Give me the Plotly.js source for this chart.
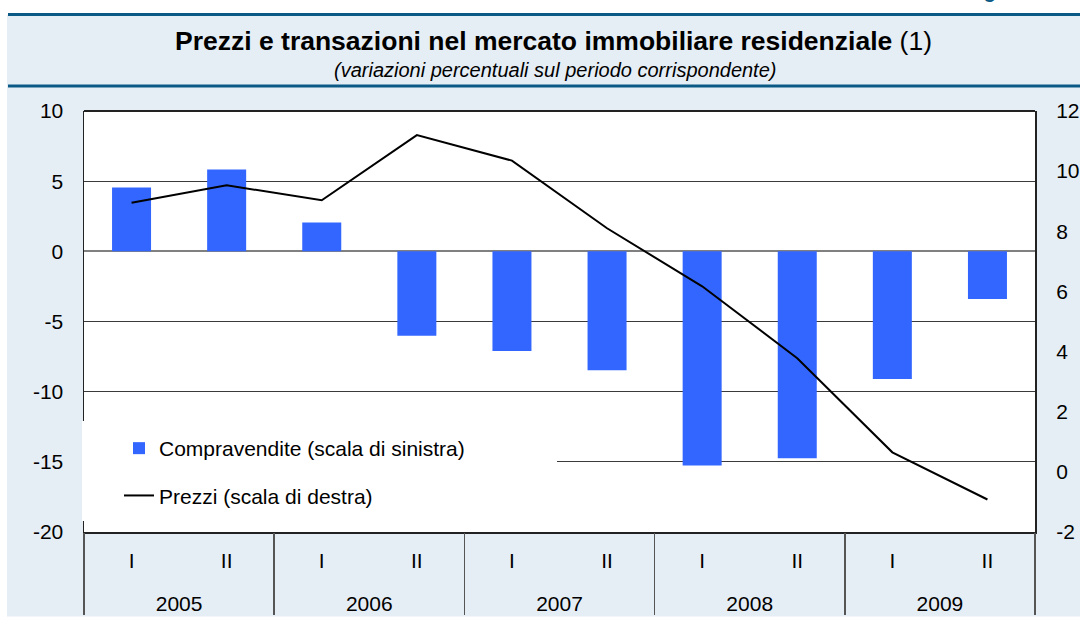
<!DOCTYPE html>
<html><head><meta charset="utf-8">
<script src="https://cdn.plot.ly/plotly-3.0.1.min.js"></script>
<style>html,body{margin:0;padding:0;background:#fff;}#chart{width:1080px;height:619px;}</style>
</head><body><div id="chart"></div>
<script>
const years = ['2005', '2006', '2007', '2008', '2009'];
const halves = ['I', 'II'];
const periods = ['2005 I','2005 II','2006 I','2006 II','2007 I','2007 II','2008 I','2008 II','2009 I','2009 II'];
const periodLabels = ['I','II','I','II','I','II','I','II','I','II'];
const compravendite = [4.55, 5.84, 2.06, -6.02, -7.1, -8.47, -15.26, -14.74, -9.1, -3.4];
const prezzi = [8.95, 9.53, 9.03, 11.2, 10.35, 8.1, 6.17, 3.78, 0.65, -0.92];
const leftTicks = [-20, -15, -10, -5, 0, 5, 10];
const rightTicks = [-2, 0, 2, 4, 6, 8, 10, 12];

const W = 1080, H = 619, L = 84, R = 1035, T = 111, B = 532;
const px = x => (x - L) / (R - L);
const py = y => (B - y) / (B - T);
const FONT = 'Liberation Sans, Arial, sans-serif';
const BLUE_LINE = '#0B5A85';
const TICKSIZE = 21;

// positions of the periods on a linear axis (one unit per period)
const pos = periods.map((p, i) => i);
const xRange = [-0.5, periods.length - 0.5];
const perYear = halves.length;
const yearPos = years.map((y, i) => i * perYear + (perYear - 1) / 2);

const traces = [
  {type: 'bar', x: pos, y: compravendite, name: 'Compravendite (scala di sinistra)',
   marker: {color: '#3366FF'}, legendgroup: 'a', xaxis: 'x', yaxis: 'y'},
  {type: 'scatter', mode: 'lines', x: pos, y: prezzi, name: 'Prezzi (scala di destra)',
   line: {color: '#000000', width: 2}, legendgroup: 'b', xaxis: 'x2', yaxis: 'y2'}
];

const layout = {
  width: W, height: H,
  margin: {l: L, r: W - R, t: T, b: H - B, pad: 0},
  paper_bgcolor: '#ffffff',
  plot_bgcolor: 'rgba(0,0,0,0)',
  font: {family: FONT, size: TICKSIZE, color: '#000'},
  bargap: 0.59,
  showlegend: true,
  title: {
    text: '<b>Prezzi e transazioni nel mercato immobiliare residenziale</b> (1)',
    font: {family: FONT, size: 26.5, color: '#000'},
    x: 553.5 / W, xanchor: 'center', xref: 'container',
    y: 1 - 41 / H, yanchor: 'middle', yref: 'container'
  },
  xaxis: {
    type: 'linear', range: xRange,
    tickvals: pos, ticktext: periodLabels,
    showline: true, linecolor: '#222', linewidth: 2,
    showgrid: false, zeroline: false,
    ticks: '', ticklabelstandoff: 9,
    tickfont: {family: FONT, size: TICKSIZE, color: '#000'},
    fixedrange: true
  },
  xaxis2: {
    type: 'linear', range: xRange, overlaying: 'x', side: 'bottom', anchor: 'y',
    tickvals: yearPos, ticktext: years,
    showline: false, showgrid: false, zeroline: false,
    ticks: '', ticklabelstandoff: 57,
    tickfont: {family: FONT, size: TICKSIZE, color: '#000'},
    minor: {tick0: -0.5, dtick: perYear, ticks: 'outside', ticklen: 82, tickcolor: '#555', tickwidth: 1.5, showgrid: false},
    fixedrange: true
  },
  yaxis: {
    range: [-20, 10], tickvals: leftTicks, ticktext: leftTicks.map(String),
    showline: true, linecolor: '#222', linewidth: 1.5,
    showgrid: true, gridcolor: '#3a3a3a', gridwidth: 1,
    zeroline: true, zerolinecolor: '#808080', zerolinewidth: 2,
    ticks: '', ticklabelstandoff: 15,
    tickfont: {family: FONT, size: TICKSIZE, color: '#000'}
  },
  yaxis2: {
    overlaying: 'y', side: 'right', anchor: 'x', range: [-2, 12], tickvals: rightTicks, ticktext: rightTicks.map(String),
    showline: true, linecolor: '#222', linewidth: 2,
    showgrid: false, zeroline: false,
    ticks: '', ticklabelstandoff: 15,
    tickfont: {family: FONT, size: TICKSIZE, color: '#000'}
  },
  legend: {
    x: px(119), y: py(428), xanchor: 'left', yanchor: 'top',
    bgcolor: 'rgba(0,0,0,0)', borderwidth: 0,
    font: {family: FONT, size: 21, color: '#000'},
    tracegroupgap: 17, traceorder: 'grouped', itemwidth: 30
  },
  shapes: [
    {type: 'rect', xref: 'paper', yref: 'paper', x0: px(7), x1: px(1080), y0: py(616.5), y1: py(15),
     fillcolor: '#E6EEF5', line: {width: 0}, layer: 'below'},
    {type: 'rect', xref: 'paper', yref: 'paper', x0: 0, x1: 1, y0: 0, y1: 1,
     fillcolor: '#ffffff', line: {width: 0}, layer: 'below'},
    {type: 'line', xref: 'paper', yref: 'paper', x0: px(8), x1: px(1080), y0: py(14.5), y1: py(14.5),
     line: {color: BLUE_LINE, width: 3}},
    {type: 'line', xref: 'paper', yref: 'paper', x0: px(8), x1: px(1080), y0: py(86), y1: py(86),
     line: {color: BLUE_LINE, width: 3}},
    {type: 'line', xref: 'paper', yref: 'paper', x0: 0, x1: 1, y0: 1, y1: 1,
     line: {color: '#222', width: 2}},
    {type: 'rect', xref: 'paper', yref: 'paper', x0: px(82), x1: px(557), y0: py(521), y1: py(421),
     fillcolor: '#ffffff', line: {width: 0}, layer: 'above'}
  ],
  annotations: [
    {text: '<i>(variazioni percentuali sul periodo corrispondente)</i>', xref: 'paper', yref: 'paper',
     x: px(554.5), y: py(70), xanchor: 'center', yanchor: 'middle', showarrow: false,
     font: {family: FONT, size: 20, color: '#000'}},
    {text: '<b>Figura 1</b>', xref: 'paper', yref: 'paper', x: px(1046), y: py(-9), xanchor: 'right', yanchor: 'middle',
     showarrow: false, font: {family: FONT, size: 20, color: BLUE_LINE}}
  ]
};

Plotly.newPlot('chart', traces, layout, {displayModeBar: false, staticPlot: true});
</script></body></html>
